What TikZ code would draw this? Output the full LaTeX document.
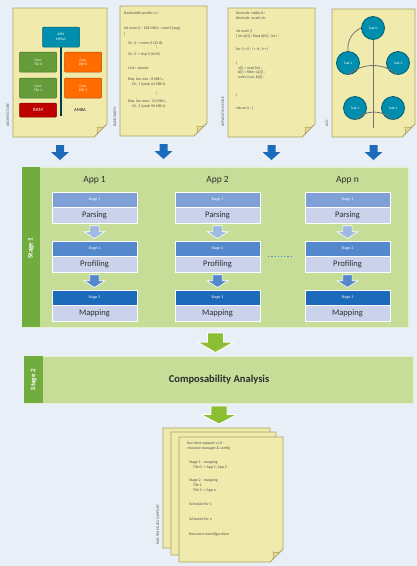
\documentclass[tikz,border=0pt]{standalone}
\usepackage{fontspec}
\setmainfont{Carlito}
\usetikzlibrary{positioning}

\definecolor{bg}{RGB}{233,239,247}
\definecolor{paper}{RGB}{240,235,172}
\definecolor{paperfold}{RGB}{226,219,150}
\definecolor{paperline}{RGB}{170,162,98}
\definecolor{stagegreen}{RGB}{198,221,152}
\definecolor{bargreen}{RGB}{112,172,62}
\definecolor{arrowgreen}{RGB}{140,190,52}
\definecolor{lav}{RGB}{203,211,236}
\definecolor{hdrA}{RGB}{126,160,214}
\definecolor{hdrB}{RGB}{84,136,204}
\definecolor{hdrC}{RGB}{28,106,186}
\definecolor{tealc}{RGB}{0,142,174}
\definecolor{ink}{RGB}{45,45,45}

% folded sheet: name, x1, y1, x2, y2
\newcommand{\paper}[5]{%
  \draw[paperline,fill=paper,line width=.7pt] (#2,#3) -- (#4,#3) -- (#4,#5-13) -- (#4-13,#5) -- (#2,#5) -- cycle;
  \draw[paperline,fill=paperfold,line width=.5pt] (#4,#5-13) .. controls (#4-4,#5-9) .. (#4-10,#5-10) .. controls (#4-9,#5-4) .. (#4-13,#5) -- cycle;
  \coordinate (#1) at ({(#2+#4)/2},#5);
}

\tikzset{
  downarrow/.pic={\path[pic actions] (-4,0) -- (4,0) -- (4,7) -- (9,7) -- (0,15) -- (-9,7) -- (-4,7) -- cycle;},
  doctext/.style={anchor=north west,align=left,inner sep=0pt,text=black!68,font=\fontsize{3.9}{4.7}\selectfont},
  doclabel/.style={rotate=90,anchor=west,inner sep=0pt,text=black!65,font=\fontsize{3.8}{4}\selectfont},
  archbox/.style={minimum width=37pt,minimum height=20pt,inner sep=0pt,align=center,text=white,draw=#1!70!black,fill=#1,rounded corners=1pt,line width=.5pt,font=\fontsize{3.6}{4.3}\selectfont},
  task/.style={circle,minimum size=23pt,inner sep=0pt,fill=tealc,draw=tealc!65!black,line width=.8pt,text=white,font=\fontsize{3.5}{4}\selectfont},
  stagebox/.style={fill=stagegreen,draw=white!55!stagegreen,line width=1pt,inner sep=0pt,anchor=north west},
  bar/.style={fill=bargreen,inner sep=0pt,anchor=north west},
  barlabel/.style={rotate=90,text=white,font=\fontsize{7}{7}\selectfont\bfseries},
  apptitle/.style={text=ink,font=\fontsize{9.5}{10}\selectfont},
  hdr/.style={minimum width=85pt,minimum height=15pt,inner sep=0pt,text=white,draw=white,line width=.5pt,font=\fontsize{4}{4}\selectfont},
  lbl/.style={minimum width=85pt,minimum height=16pt,inner sep=0pt,fill=lav,draw=white,line width=.5pt,text=ink,font=\fontsize{8.5}{9}\selectfont}
}

\begin{document}
\begin{tikzpicture}[x=1pt,y=-1pt]
\fill[bg] (0,0) rectangle (417,566);
\useasboundingbox (0,0) rectangle (417,566);

% input sheets
\paper{arch}{13}{8}{107}{137}
\paper{bw}{120}{6}{207}{136}
\paper{code}{228}{8}{315}{137}
\paper{acg}{332}{9}{415}{137}

\node[doclabel] (archlab) at (8,127) {ARCHITECTURE};
\node[doclabel] (bwlab) at (115,127) {BANDWIDTH};
\node[doclabel] (codelab) at (223,127) {APPLICATION CODE};
\node[doclabel] (acglab) at (327,127) {ACG};

% architecture
\draw[tealc!45!black,line width=2pt] (61,45) -- (61,116) coordinate (busend);
\node[archbox=tealc] (cpu) at (61,37) {ARM\\MPSoC};
\node[archbox=bargreen!90!black] (tile0) at (38,62) {Core\\Tile 0};
\node[archbox=bargreen!90!black] (tile1) at (38,88) {Core\\Tile 1};
\node[archbox={orange!85!red}] (dsp0) at (83,62) {Core\\DSP 0};
\node[archbox={orange!85!red}] (dsp1) at (83,88) {Core\\DSP 1};
\node[archbox={red!75!black},minimum height=14pt,font=\fontsize{5}{5}\selectfont] (ram) at (38,110) {RAM};
\node[text=black!70,font=\fontsize{4.5}{5}\selectfont\bfseries] (amba) at (80,110) {AMBA};

\node[doctext] (bwtext) at (124,12) {Bandwidth profile v1 :\\[10pt]
Int mem 0 : 128 MB/s ; read 4 [avg]\\[1pt]
\}\\[4pt]
\hspace{4pt}Ch. 0 -> mem 0 (32 B)\\[0pt]
\hspace{32pt}|\\[2pt]
\hspace{4pt}Ch. 0 -> dsp 0 (64 B)\\[9pt]
\hspace{4pt}Link : shared\\[7pt]
\hspace{4pt}Req. bw min : 8 MB/s ,\\
\hspace{8pt}Ch. 1 (peak 64 MB/s)\\[4pt]
\hspace{32pt}|\\[4pt]
\hspace{4pt}Req. bw max : 32 MB/s ,\\
\hspace{8pt}Ch. 2 (peak 96 MB/s)};

\node[doctext] (codetext) at (236,12) {\#include <stdio.h>\\
\#include <math.h>\\[8pt]
int main ()\\
\{ int a[N] ; float b[N] ; int i ;\\[9pt]
for (i = 0 ; i < N ; i++)\\[9pt]
\{\\
\hspace{2pt}a[i] = read (in) ;\\
\hspace{2pt}b[i] = filter (a[i]) ;\\
\hspace{2pt}write (out, b[i]) ;\\[13pt]
\}\\[9pt]
return 0 ; \}};

% task graph
\node[task] (t0) at (373,28) {Task 0};
\node[task] (t1) at (348,63) {Task 1};
\node[task] (t2) at (398,63) {Task 2};
\node[task] (t3) at (355,108) {Task 3};
\node[task] (t4) at (393,108) {Task 4};
\draw[black!55,line width=.8pt] (t0) -- (373,128) coordinate (tend);
\draw[black!55,line width=.8pt] (t0.west) to[bend right=35] (t1.north);
\draw[black!55,line width=.8pt] (t1.south) to[bend left=40] (t2.south);
\draw[black!55,line width=.8pt] (t3.south) to[bend left=45] (t4.south);

% arrows into stage 1
\foreach \d in {arch,bw,code,acg}
  \pic[fill=hdrC] at ([yshift=-8pt]\d) {downarrow};

% stage 1
\node[stagebox,minimum width=386pt,minimum height=160pt] (stage1) at (22,167) {};
\node[bar,minimum width=18pt,minimum height=160pt] (bar1) at (22,167) {};
\node[barlabel] (s1lab) at (31,248) {Stage 1};

\foreach \cx/\nm/\k in {94.5/App 1/a,217.5/App 2/b,347.5/App n/c}{
  \node[apptitle] (title\k) at (\cx,180) {\nm};
  \node[hdr,fill=hdrA] (h1\k) at (\cx,199.5) {Stage 1};
  \node[lbl,below=0pt of h1\k] (pars\k) {Parsing};
  \node[hdr,fill=hdrB] (h2\k) at (\cx,248.5) {Stage 2};
  \node[lbl,below=0pt of h2\k] (prof\k) {Profiling};
  \node[hdr,fill=hdrC] (h3\k) at (\cx,297.5) {Stage 3};
  \node[lbl,below=0pt of h3\k] (map\k) {Mapping};
  \pic[fill=hdrA!75,draw=white,line width=.6pt,xscale=1.15,yscale=.85] at ([yshift=-2pt]pars\k.south) {downarrow};
  \pic[fill=hdrB,draw=white,line width=.6pt,xscale=1.15,yscale=.85] at ([yshift=-2pt]prof\k.south) {downarrow};
}
\draw[hdrB,dotted,line width=1.2pt,shorten <=8pt,shorten >=13pt] (h2b.south east) -- (h2c.south west);

% stage 2
\node[stagebox,minimum width=389pt,minimum height=47pt] (stage2) at (24,356) {};
\node[bar,minimum width=19pt,minimum height=47pt] (bar2) at (24,356) {};
\node[barlabel] (s2lab) at (bar2.center) {Stage 2};
\node[text=ink,font=\fontsize{10.5}{11}\selectfont\bfseries] (comp) at (stage2.center) {Composability Analysis};

\pic[fill=arrowgreen,draw=white,line width=.8pt,xscale=2,yscale=1.3] at ([yshift=-5pt]stage1.south) {downarrow};
\pic[fill=arrowgreen,draw=white,line width=.8pt,xscale=2,yscale=1.2] at ([yshift=-2pt]stage2.south) {downarrow};

% run time output
\paper{rt3}{163}{428}{270}{548}
\paper{rt2}{171}{432}{276}{555}
\paper{rt1}{179}{437}{283}{562}
\node[doclabel] (rtlab) at (158,545) {RUN TIME DATA SUPPORT};
\node[doctext] (rttext) at (187,442) {Run time support v1.0 -\\
resource manager \& config\\[9pt]
\hspace{2pt}Stage 1 : mapping\\
\hspace{6pt}Tile 0 -> App 1, App 2\\[9pt]
\hspace{2pt}Stage 2 : mapping\\
\hspace{6pt}Tile 1\\
\hspace{6pt}Tile 2 -> App n\\[10pt]
\hspace{2pt}Schedule for 1\\[10pt]
\hspace{2pt}Schedule for n\\[10pt]
\hspace{2pt}Resource reconfiguration};
\end{tikzpicture}
\end{document}
